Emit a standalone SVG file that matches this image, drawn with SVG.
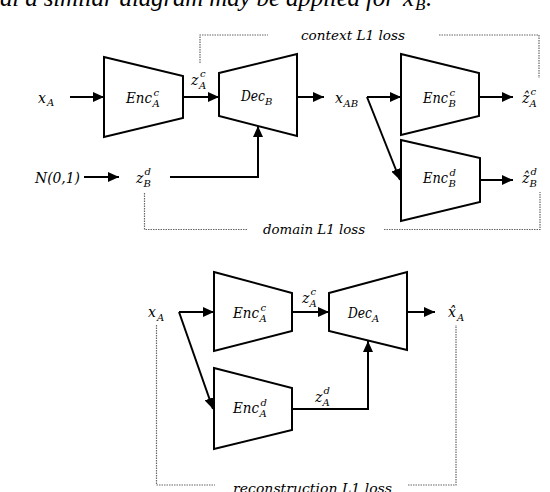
<svg xmlns="http://www.w3.org/2000/svg" width="550" height="492" viewBox="0 0 550 492">
<defs>
<marker id="ah" markerUnits="userSpaceOnUse" markerWidth="11" markerHeight="10" refX="11" refY="5" orient="auto">
<path d="M0,0 L11,5 L0,10 Z" fill="#000"/>
</marker>
<style>
.blk{fill:#fff;stroke:#000;stroke-width:2;stroke-linejoin:miter}
.con{fill:none;stroke:#000;stroke-width:2}
.arr{marker-end:url(#ah)}
.dot{fill:none;stroke:#666;stroke-width:1.2;stroke-dasharray:1.5 1}
text{font-family:"DejaVu Serif","Liberation Serif",serif;font-style:italic;fill:#000}
.cap{font-family:"Liberation Serif","Times New Roman",serif;font-size:25px}
.m{font-size:14px}
.s{font-size:10px}
.loss{font-size:13px}
</style>
</defs>
<rect width="550" height="492" fill="#fff"/>

<text id="caption" class="cap" x="0" y="6"><tspan textLength="401" lengthAdjust="spacing">al a similar diagram may be applied for </tspan><tspan x="403" y="6">x</tspan><tspan x="415" y="10" font-size="17">B</tspan><tspan x="426" y="6">.</tspan></text>

<g id="connectors">
<path class="con arr" d="M70,97 H104"/>
<path class="con arr" d="M183,97 H219"/>
<path class="con arr" d="M84,177 H119"/>
<path class="con arr" d="M170,177 H258 V126"/>
<path class="con arr" d="M297,97 H324"/>
<path class="con arr" d="M367,97 H401"/>
<path class="con arr" d="M367,97 L400,180"/>
<path class="con arr" d="M479,97 H513"/>
<path class="con arr" d="M480,180 H513"/>
<path class="con arr" d="M179,312 H214"/>
<path class="con arr" d="M179,312 L213,409"/>
<path class="con arr" d="M292,312 H329"/>
<path class="con arr" d="M407,312 H435"/>
<path class="con arr" d="M292,409 H368 V341"/>
<path class="dot" d="M200,63 V35 H268 M439,35 H539 V78"/>
<path class="dot" d="M144.5,193 V229.5 H248 M384,229.5 H540 V192"/>
<path class="dot" d="M156.5,325 V485 H215 M408,485 H456 V325"/>
</g>

<g id="loss-labels">
<text class="loss" x="301" y="40" textLength="104" lengthAdjust="spacingAndGlyphs">context L1 loss</text>
<text class="loss" x="263" y="233.5" textLength="102" lengthAdjust="spacingAndGlyphs">domain L1 loss</text>
<text class="loss" x="233" y="493" textLength="159" lengthAdjust="spacingAndGlyphs">reconstruction L1 loss</text>
</g>

<g id="xA-top"><text class="m" x="38" y="103">x</text><text class="s" x="47" y="106">A</text></g>
<g id="EncAc-top">
<polygon class="blk" points="104,57 183,76 183,118 104,137"/>
<text class="m" x="126" y="103" textLength="26" lengthAdjust="spacingAndGlyphs">Enc</text><text class="s" x="153.5" y="96">c</text><text class="s" x="152.5" y="106.5">A</text>
</g>
<g id="zAc-top"><text class="m" x="191" y="85">z</text><text class="s" x="200" y="77">c</text><text class="s" x="199" y="88.5">A</text></g>
<g id="DecB">
<polygon class="blk" points="219,73 297,54 297,136 219,116"/>
<text class="m" x="241" y="101" textLength="24" lengthAdjust="spacingAndGlyphs">Dec</text><text class="s" x="265" y="104.5">B</text>
</g>
<g id="N01"><text class="m" x="35" y="183" textLength="45" lengthAdjust="spacingAndGlyphs">N(0,1)</text></g>
<g id="zBd"><text class="m" x="136" y="183">z</text><text class="s" x="144.5" y="175">d</text><text class="s" x="143.5" y="187">B</text></g>
<g id="xAB"><text class="m" x="335" y="103">x</text><text class="s" x="343.5" y="106.5">AB</text></g>
<g id="EncBc">
<polygon class="blk" points="401,54 479,73 479,116 401,135"/>
<text class="m" x="423" y="103" textLength="25" lengthAdjust="spacingAndGlyphs">Enc</text><text class="s" x="449.5" y="96">c</text><text class="s" x="448.5" y="106.5">B</text>
</g>
<g id="EncBd">
<polygon class="blk" points="401,140 480,158 480,202 401,221"/>
<text class="m" x="423" y="183" textLength="25" lengthAdjust="spacingAndGlyphs">Enc</text><text class="s" x="449.5" y="175.5">d</text><text class="s" x="448.5" y="187">B</text>
</g>
<g id="zhatAc"><text class="m" x="522" y="103">ẑ</text><text class="s" x="530.5" y="95">c</text><text class="s" x="529.5" y="106.5">A</text></g>
<g id="zhatBd"><text class="m" x="522" y="183">ẑ</text><text class="s" x="530.5" y="175">d</text><text class="s" x="529.5" y="187">B</text></g>

<g id="xA-bot"><text class="m" x="148" y="317">x</text><text class="s" x="157" y="320.5">A</text></g>
<g id="EncAc-bot">
<polygon class="blk" points="214,272 292,293 292,331 214,351"/>
<text class="m" x="233" y="318" textLength="26" lengthAdjust="spacingAndGlyphs">Enc</text><text class="s" x="260.5" y="311">c</text><text class="s" x="259.5" y="321.5">A</text>
</g>
<g id="zAc-bot"><text class="m" x="302" y="303">z</text><text class="s" x="310.5" y="295">c</text><text class="s" x="309.5" y="306.5">A</text></g>
<g id="DecA">
<polygon class="blk" points="329,293 407,272 407,350 329,331"/>
<text class="m" x="348" y="318" textLength="24" lengthAdjust="spacingAndGlyphs">Dec</text><text class="s" x="372" y="321.5">A</text>
</g>
<g id="xhatA"><text class="m" x="448" y="317">x̂</text><text class="s" x="457" y="320.5">A</text></g>
<g id="EncAd">
<polygon class="blk" points="214,368 292,388 292,430 214,449"/>
<text class="m" x="233" y="413" textLength="26" lengthAdjust="spacingAndGlyphs">Enc</text><text class="s" x="260.5" y="406">d</text><text class="s" x="259.5" y="416.5">A</text>
</g>
<g id="zAd"><text class="m" x="315" y="402">z</text><text class="s" x="323.5" y="394">d</text><text class="s" x="322.5" y="405.5">A</text></g>
</svg>
